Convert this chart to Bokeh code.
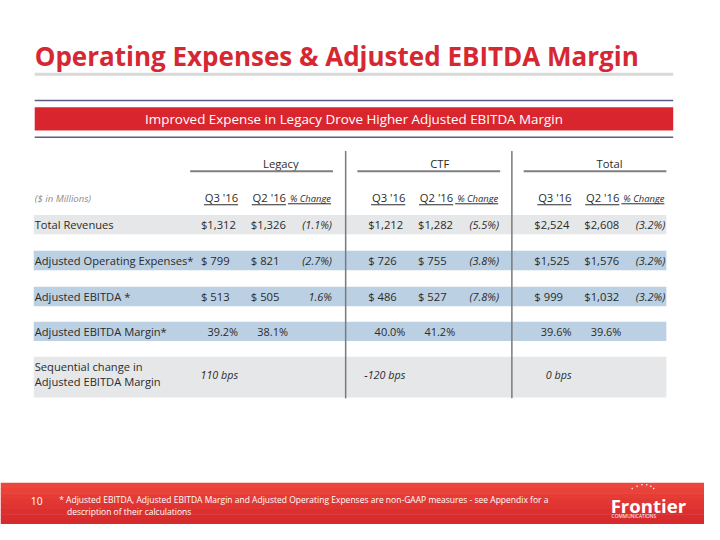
from bokeh.plotting import figure
from bokeh.models import Range1d
from bokeh.core.properties import value
from bokeh.embed import file_html
from bokeh.resources import INLINE

# ---------------- data ----------------
title_text = "Operating Expenses & Adjusted EBITDA Margin"
banner_text = "Improved Expense in Legacy Drove Higher Adjusted EBITDA Margin"
groups = ["Legacy", "CTF", "Total"]
period_labels = ["Q3 '16", "Q2 '16"]
change_label = "% Change"
units_label = "($ in Millions)"
row_labels = ["Total Revenues", "Adjusted Operating Expenses*",
              "Adjusted EBITDA *", "Adjusted EBITDA Margin*"]
seq_label = ["Sequential change in", "Adjusted EBITDA Margin"]

legacy_q3 = [1312, 799, 513]
legacy_q2 = [1326, 821, 505]
legacy_change = [-1.1, -2.7, 1.6]
ctf_q3 = [1212, 726, 486]
ctf_q2 = [1282, 755, 527]
ctf_change = [-5.5, -3.8, -7.8]
total_q3 = [2524, 1525, 999]
total_q2 = [2608, 1576, 1032]
total_change = [-3.2, -3.2, -3.2]
margin_q3 = [39.2, 40.0, 39.6]
margin_q2 = [38.1, 41.2, 39.6]
sequential_bps = [110, -120, 0]

page_number = "10"
footnote = ["* Adjusted EBITDA, Adjusted EBITDA Margin and Adjusted Operating Expenses are non-GAAP measures - see Appendix for a",
            "description of their calculations"]
logo_text = "Frontier"
logo_sub = "COMMUNICATIONS"

# ---------------- styles / layout ----------------
W, H = 704, 524
S = W / 720.0
RED = "#D62832"
FONT = "Open Sans"
BAND_GRAY = "#E6E7E8"
BAND_BLUE = "#BCD0E3"
TXT = "#2B2B2B"

p = figure(width=W, height=H, x_range=Range1d(0, 720), y_range=Range1d(540, 0),
           output_backend="svg", toolbar_location=None, min_border=0,
           background_fill_color="white", border_fill_color="white")
p.axis.visible = False
p.grid.visible = False
p.outline_line_color = None


def fs(px):
    return f"{px * S:.2f}px"


def txt(xs, ys, texts, size, color=TXT, align="left", baseline="middle", style="normal", font=FONT):
    p.text(x=xs, y=ys, text=texts, text_font=value(font), text_font_size=fs(size),
           text_color=color, text_align=align, text_baseline=baseline, text_font_style=style)


def money(v):
    return f"${v:,}" if v >= 1000 else f"$ {v}"


def chg(v):
    return f"({abs(v):.1f}%)" if v < 0 else f"{v:.1f}%"


# title + rules
txt([35], [57], [title_text], 26.6, color=RED, baseline="alphabetic", style="bold")
p.segment(x0=[35], y0=[76], x1=[688], y1=[76], line_color="#D9D9D9", line_width=3)
p.segment(x0=[35, 35], y0=[103, 141], x1=[688, 688], y1=[103, 141], line_color="#5E5A8A", line_width=1.5)
p.quad(left=[35], right=[688], top=[110], bottom=[134], fill_color="#D9262E", line_color=None)
txt([361.5], [122], [banner_text], 13.7, color="white", align="center")

# table geometry
row_y = [231, 268, 305, 341]
band_colors = [BAND_GRAY, BAND_BLUE, BAND_BLUE, BAND_BLUE]
p.quad(left=[34] * 4, right=[681] * 4, top=[y - 10 for y in row_y], bottom=[y + 10 for y in row_y],
       fill_color=band_colors, line_color=None)
p.quad(left=[34], right=[681], top=[367], bottom=[409], fill_color=BAND_GRAY, line_color=None)

group_x0 = [194, 365, 535]
q3_vals = [legacy_q3, ctf_q3, total_q3]
q2_vals = [legacy_q2, ctf_q2, total_q2]
chg_vals = [legacy_change, ctf_change, total_change]

# separators
p.segment(x0=[x - 12 for x in group_x0[1:]], y0=[155] * 2, x1=[x - 12 for x in group_x0[1:]], y1=[410] * 2,
          line_color="#7A7A7A", line_width=1.5)

# labels
txt([35], [204], [units_label], 9.8, color="#8C8C8C", style="italic")
txt([35] * 4, row_y, row_labels, 11.4)
txt([35, 35], [377, 393], seq_label, 11.4)

for g, x0 in enumerate(group_x0):
    q3l, q3r, q2l, q2r, pr = x0 + 11, x0 + 49, x0 + 62, x0 + 98, x0 + 145
    # group header
    txt([(x0 + pr) / 2 + 2], [168], [groups[g]], 11.5)
    p.segment(x0=[x0], y0=[176], x1=[pr + 1], y1=[176], line_color="#7F7F7F", line_width=2)
    # period headers
    txt([q3r, q2r], [203, 203], period_labels, 11.5, align="right")
    p.segment(x0=[q3r - 35, q2r - 35], y0=[210.5, 210.5], x1=[q3r, q2r], y1=[210.5, 210.5],
              line_color=TXT, line_width=1)
    txt([pr - 1], [204], [change_label], 9.6, style="italic", align="right")
    p.segment(x0=[pr - 45], y0=[209.5], x1=[pr - 1], y1=[209.5], line_color=TXT, line_width=1)
    # values
    txt([q3l] * 3, row_y[:3], [money(v) for v in q3_vals[g]], 11.5)
    txt([q2l] * 3, row_y[:3], [money(v) for v in q2_vals[g]], 11.5)
    txt([pr] * 3, row_y[:3], [chg(v) for v in chg_vals[g]], 11.2, style="italic", align="right")
    txt([q3r, q2r + 2], [row_y[3]] * 2, [f"{margin_q3[g]:.1f}%", f"{margin_q2[g]:.1f}%"], 11.2, align="right")
    txt([q3r], [385], [f"{sequential_bps[g]} bps"], 11, style="italic", align="right")

# footer
shades = ["#EB473D", "#E84239", "#E53D36", "#E23833", "#DF3431", "#DC302F", "#D92C2E", "#D62A2D"]
n = len(shades)
p.quad(left=[0] * n, right=[720] * n, top=[497 + i * 5.4 for i in range(n)],
       bottom=[497 + (i + 1) * 5.4 + 0.6 for i in range(n)], fill_color=shades, line_color=None)
txt([31], [516], [page_number], 10.5, color="white")
txt([60, 68], [514, 527], footnote, 8.7, color="white")
txt([624], [520], [logo_text], 19, color="white", baseline="middle", style="bold")
txt([625], [531], [logo_sub], 5, color="white")
p.scatter(x=[646, 651, 656, 661, 665, 668], y=[503, 500.5, 499, 499, 500.5, 503], size=1.6,
          fill_color="white", line_color=None)

open("out.html", "w").write(file_html(p, INLINE))
